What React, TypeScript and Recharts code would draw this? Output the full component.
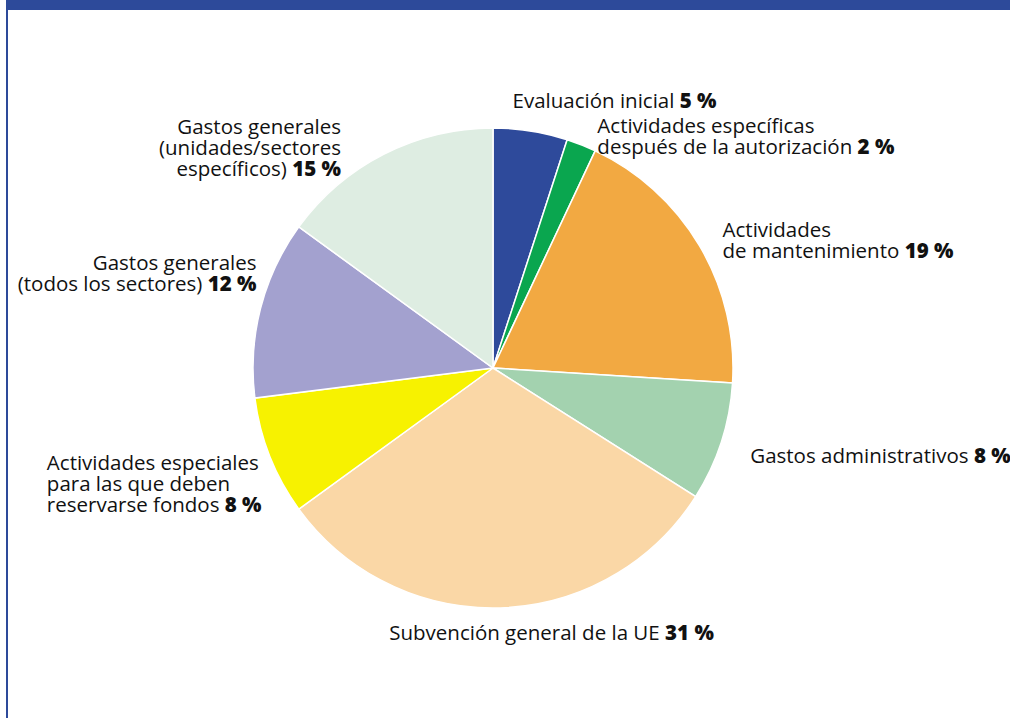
import { PieChart, Pie, Cell } from 'recharts';

const SLICE_NAMES = [
  'Evaluación inicial',
  'Actividades específicas después de la autorización',
  'Actividades de mantenimiento',
  'Gastos administrativos',
  'Subvención general de la UE',
  'Actividades especiales para las que deben reservarse fondos',
  'Gastos generales (todos los sectores)',
  'Gastos generales (unidades/sectores específicos)',
];

const SLICE_VALUES = [5, 2, 19, 8, 31, 8, 12, 15];

const SLICE_COLORS = [
  '#2e4a9b', // dark blue
  '#0aa64f', // green
  '#f2a942', // orange
  '#a3d2af', // light green
  '#fad7a6', // peach
  '#f7f200', // yellow
  '#a3a1cf', // lavender
  '#deede2', // pale green
];

// text lines for each label, the percentage is appended in bold to the last line
const LABEL_LINES = [
  ['Evaluación inicial'],
  ['Actividades específicas', 'después de la autorización'],
  ['Actividades', 'de mantenimiento'],
  ['Gastos administrativos'],
  ['Subvención general de la UE'],
  ['Actividades especiales', 'para las que deben', 'reservarse fondos'],
  ['Gastos generales', '(todos los sectores)'],
  ['Gastos generales', '(unidades/sectores', 'específicos)'],
];

// placement of each label relative to the slice's outer mid point
const LABEL_LAYOUT: { anchor: 'start' | 'middle' | 'end'; dx: number; dy: number }[] = [
  { anchor: 'start', dx: -18, dy: -29 },
  { anchor: 'start', dx: 16, dy: -18 },
  { anchor: 'start', dx: 23, dy: -15 },
  { anchor: 'start', dx: 29, dy: 15 },
  { anchor: 'middle', dx: 51, dy: 26 },
  { anchor: 'start', dx: -223, dy: 8 },
  { anchor: 'end', dx: -4, dy: -44 },
  { anchor: 'end', dx: -43, dy: -26 },
];

const data = SLICE_NAMES.map((name, i) => ({ name, value: SLICE_VALUES[i] }));

const RAD = Math.PI / 180;
const LINE_H = 21;

function renderLabel(props: any) {
  const { cx, cy, midAngle, outerRadius, index } = props;
  const layout = LABEL_LAYOUT[index];
  const px = cx + outerRadius * Math.cos(-midAngle * RAD);
  const py = cy + outerRadius * Math.sin(-midAngle * RAD);
  const x = px + layout.dx;
  const y = py + layout.dy + 6;
  const lines = LABEL_LINES[index];
  return (
    <text
      key={`label-${index}`}
      x={x}
      y={y}
      textAnchor={layout.anchor}
      fill="#111111"
      fontSize={20.5}
      fontFamily="'Open Sans', sans-serif"
    >
      {lines.map((line, li) => (
        <tspan key={li} x={x} dy={li === 0 ? 0 : LINE_H}>
          {line}
          {li === lines.length - 1 && (
            <tspan fontWeight={800}>{` ${SLICE_VALUES[index]} %`}</tspan>
          )}
        </tspan>
      ))}
    </text>
  );
}

export default function App() {
  return (
    <div
      style={{
        position: 'absolute',
        left: 0,
        top: 0,
        width: 1010,
        height: 718,
        background: '#ffffff',
        overflow: 'hidden',
      }}
    >
      <div style={{ position: 'absolute', left: 6, top: 0, width: 1004, height: 10, background: '#2d4a9a' }} />
      <div style={{ position: 'absolute', left: 6, top: 0, width: 2, height: 718, background: '#2d4a9a' }} />
      <div style={{ position: 'absolute', left: 0, top: 0 }}>
        <PieChart width={1010} height={718} margin={{ top: 0, right: 0, bottom: 0, left: 0 }}>
          <Pie
            data={data}
            dataKey="value"
            nameKey="name"
            cx={493}
            cy={368}
            outerRadius={240}
            startAngle={90}
            endAngle={-270}
            stroke="#ffffff"
            strokeWidth={1.5}
            label={renderLabel}
            labelLine={false}
            isAnimationActive={false}
          >
            {data.map((d, i) => (
              <Cell key={d.name} fill={SLICE_COLORS[i]} />
            ))}
          </Pie>
        </PieChart>
      </div>
    </div>
  );
}
